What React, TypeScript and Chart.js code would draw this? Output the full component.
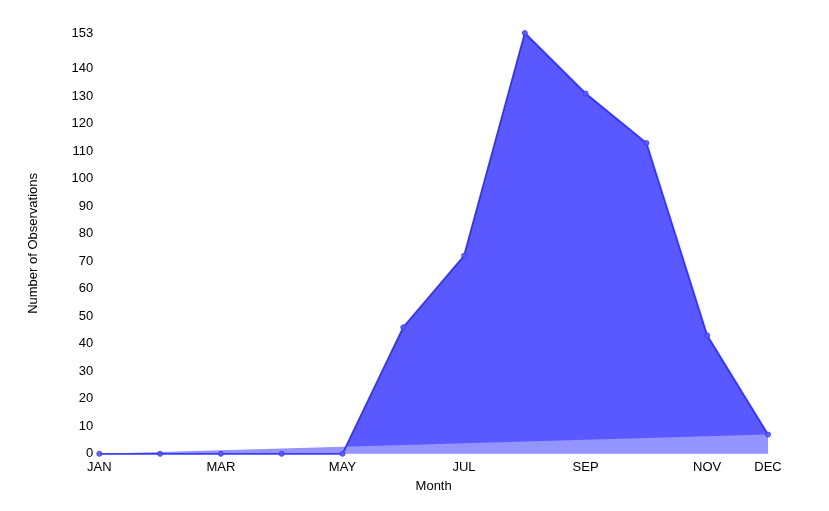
import React, { useEffect, useRef } from "react";
import { Chart, registerables } from "chart.js";

Chart.register(...registerables);

const months = ["JAN", "FEB", "MAR", "APR", "MAY", "JUN", "JUL", "AUG", "SEP", "OCT", "NOV", "DEC"];
const observations = [0, 0, 0, 0, 0, 46, 72, 153, 131, 113, 43, 7];
const trendValues = [0, null, null, null, null, null, null, null, null, null, null, 7];
const yTicks = [0, 10, 20, 30, 40, 50, 60, 70, 80, 90, 100, 110, 120, 130, 140, 153];
const shownMonths = ["JAN", "MAR", "MAY", "JUL", "SEP", "NOV", "DEC"];

export default function App() {
  const ref = useRef<HTMLCanvasElement>(null);
  useEffect(() => {
    const font = { family: "'Liberation Sans', Arial, sans-serif", size: 13 };
    const chart = new Chart(ref.current!, {
      type: "line",
      data: {
        labels: months,
        datasets: [
          {
            label: "trend",
            data: trendValues,
            spanGaps: true,
            fill: "origin",
            backgroundColor: "rgb(148,148,255)",
            borderWidth: 0,
            pointRadius: 0,
            order: 0,
          },
          {
            label: "Observations",
            data: observations,
            fill: "origin",
            clip: 6,
            backgroundColor: "rgba(0,0,255,0.65)",
            borderColor: "rgba(40,40,255,0.9)",
            borderWidth: 1.8,
            pointRadius: 2.5,
            pointBackgroundColor: "rgba(90,90,255,0.9)",
            pointBorderColor: "rgba(60,60,255,0.9)",
            pointBorderWidth: 1,
            tension: 0,
            order: 1,
          },
        ],
      },
      options: {
        animation: false,
        responsive: false,
        layout: { padding: { left: 26, right: 61, top: 33, bottom: 17 } },
        plugins: {
          legend: { display: false },
          tooltip: { enabled: false },
          filler: { drawTime: "beforeDatasetsDraw" },
        },
        scales: {
          x: {
            grid: { display: false, drawTicks: false },
            border: { display: false },
            ticks: {
              autoSkip: false,
              maxRotation: 0,
              color: "#000",
              font,
              padding: 6,
              callback: (v: any, i: number) => (shownMonths.includes(months[i]) ? months[i] : ""),
            },
            title: { display: true, text: "Month", color: "#000", font, padding: { top: -3, bottom: 0 } },
          },
          y: {
            min: 0,
            max: 153,
            grid: { display: false, drawTicks: false },
            border: { display: false },
            afterBuildTicks: (axis: any) => {
              axis.ticks = yTicks.map((v) => ({ value: v }));
            },
            ticks: { color: "#000", font, padding: 6 },
            title: {
              display: true,
              text: "Number of Observations",
              color: "#000",
              font,
              padding: { top: 0, bottom: 24 },
            },
          },
        },
      },
    });
    return () => chart.destroy();
  }, []);
  return (
    <div style={{ position: "fixed", left: 0, top: 0, width: 829, height: 511, background: "#fff" }}>
      <canvas ref={ref} width={829} height={511} style={{ width: 829, height: 511 }} />
    </div>
  );
}
